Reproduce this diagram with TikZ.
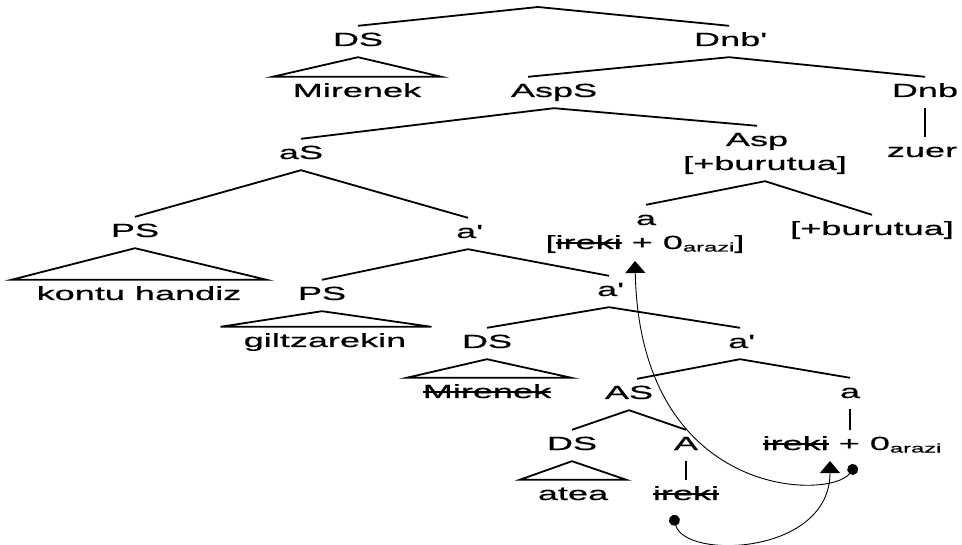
\documentclass[tikz,border=0pt]{standalone}
\usepackage{fontspec}
\setmainfont[FakeStretch=1.9,FakeBold=0.7]{Liberation Sans}
\usetikzlibrary{arrows.meta}
\newsavebox{\strkbox}
\newcommand{\strk}[1]{\sbox{\strkbox}{#1}\rlap{\usebox{\strkbox}}\rule[5pt]{\wd\strkbox}{1.5pt}}
\newcommand{\subt}[1]{\raisebox{-2.5pt}{\fontsize{12.5}{13}\selectfont #1}}
\newcommand{\prm}{\textquotesingle}

\begin{document}
\begin{tikzpicture}[x=1pt, y=-1pt,
    lbl/.style={anchor=base, inner xsep=0pt, inner ysep=6pt, text height=14pt, text depth=5pt, font=\fontsize{19}{22}\selectfont},
    branch/.style={line width=1.8pt},
    bar/.style={line width=2.8pt},
    move/.style={line width=0.9pt, {Circle[length=11pt]}-{Triangle[length=12pt,width=20pt]}}]
    %% Background
    \useasboundingbox (0,0) rectangle (962,545);
    %% Labels
    \node[lbl] (ds1) at (358,46) {DS};
    \node[lbl] (dnbbar) at (729,46) {Dnb\prm};
    \node[lbl] (mirenek1) at (357,97) {Mirenek};
    \node[lbl] (asps) at (554,97) {AspS};
    \node[lbl] (dnb) at (925,97) {Dnb};
    \node[lbl] (zuer) at (922,157) {zuer};
    \node[lbl] (as) at (301,159) {aS};
    \node[lbl] (asp) at (757,146) {Asp};
    \node[lbl] (aspf) at (765,170) {[+burutua]};
    \node[lbl] (ps1) at (135,237) {PS};
    \node[lbl] (abar1) at (468,238) {a\prm};
    \node[lbl] (ahead) at (646,225) {a};
    \node[lbl] (acomp) at (645,249) {[\strk{ireki} + 0\subt{arazi}]};
    \node[lbl] (burf) at (872,235) {[+burutua]};
    \node[lbl] (kontu) at (139,300) {kontu handiz};
    \node[lbl] (ps2) at (322,300) {PS};
    \node[lbl] (abar2) at (609,296) {a\prm};
    \node[lbl] (giltz) at (325,347) {giltzarekin};
    \node[lbl] (ds3) at (487,348) {DS};
    \node[lbl] (abar3) at (740,348) {a\prm};
    \node[lbl] (mirenek2) at (487,398) {\strk{Mirenek}};
    \node[lbl] (asnode) at (629,399) {AS};
    \node[lbl] (alow) at (850,398) {a};
    \node[lbl] (ds4) at (572,450) {DS};
    \node[lbl] (aadj) at (686,450) {A};
    \node[lbl] (ireki0) at (852,450) {\strk{ireki} + 0\subt{arazi}};
    \node[lbl] (atea) at (573,500) {atea};
    \node[lbl] (ireki1) at (686,500) {\strk{ireki}};
    %% Branches
    \coordinate (root) at (538,7);
    \draw[branch] (ds1.north) -- (root) -- (dnbbar.north);
    \draw[branch] (ds1.south) -- ([xshift=-20pt]mirenek1.north west) -- ([xshift=20pt]mirenek1.north east) -- cycle;
    \draw[branch] ([xshift=-26pt]asps.north) -- (dnbbar.south) -- (dnb.north);
    \draw[bar] (dnb.south) -- (dnb.south |- zuer.north);
    \draw[branch] (as.north) -- (asps.south) -- (asp.north);
    \draw[branch] (ps1.north) -- (as.south) -- (abar1.north);
    \draw[branch] (ahead.north) -- (aspf.south) -- (burf.north);
    \draw[branch] (ps1.south) -- ([xshift=-25pt]kontu.north west) -- ([xshift=25pt]kontu.north east) -- cycle;
    \draw[branch] (ps2.north) -- (abar1.south) -- (abar2.north);
    \draw[branch] (ps2.south) -- ([xshift=-23pt]giltz.north west) -- ([xshift=25pt]giltz.north east) -- cycle;
    \draw[branch] (ds3.north) -- (abar2.south) -- (abar3.north);
    \draw[branch] (ds3.south) -- ([xshift=-16pt]mirenek2.north west) -- ([xshift=20pt]mirenek2.north east) -- cycle;
    \draw[branch] ([xshift=8pt]asnode.north) -- (abar3.south) -- (alow.north);
    \draw[branch] (ds4.north) -- (asnode.south) -- (aadj.north);
    \draw[branch] (ds4.south) -- ([xshift=-18pt]atea.north west) -- ([xshift=18pt]atea.north east) -- cycle;
    \draw[bar] (aadj.south) -- (ireki1.north);
    \draw[bar] (alow.south) -- (alow.south |- ireki0.north);
    %% Movement
    \coordinate (dotA) at (856,465);
    \coordinate (tipA) at (635,261);
    \coordinate (dotB) at (673,515);
    \coordinate (tipB) at (830,461);
    \draw[move] (dotA) .. controls (830,500) and (640,500) .. (tipA);
    \draw[move] (dotB) .. controls (685,560) and (830,555) .. (tipB);
\end{tikzpicture}
\end{document}
